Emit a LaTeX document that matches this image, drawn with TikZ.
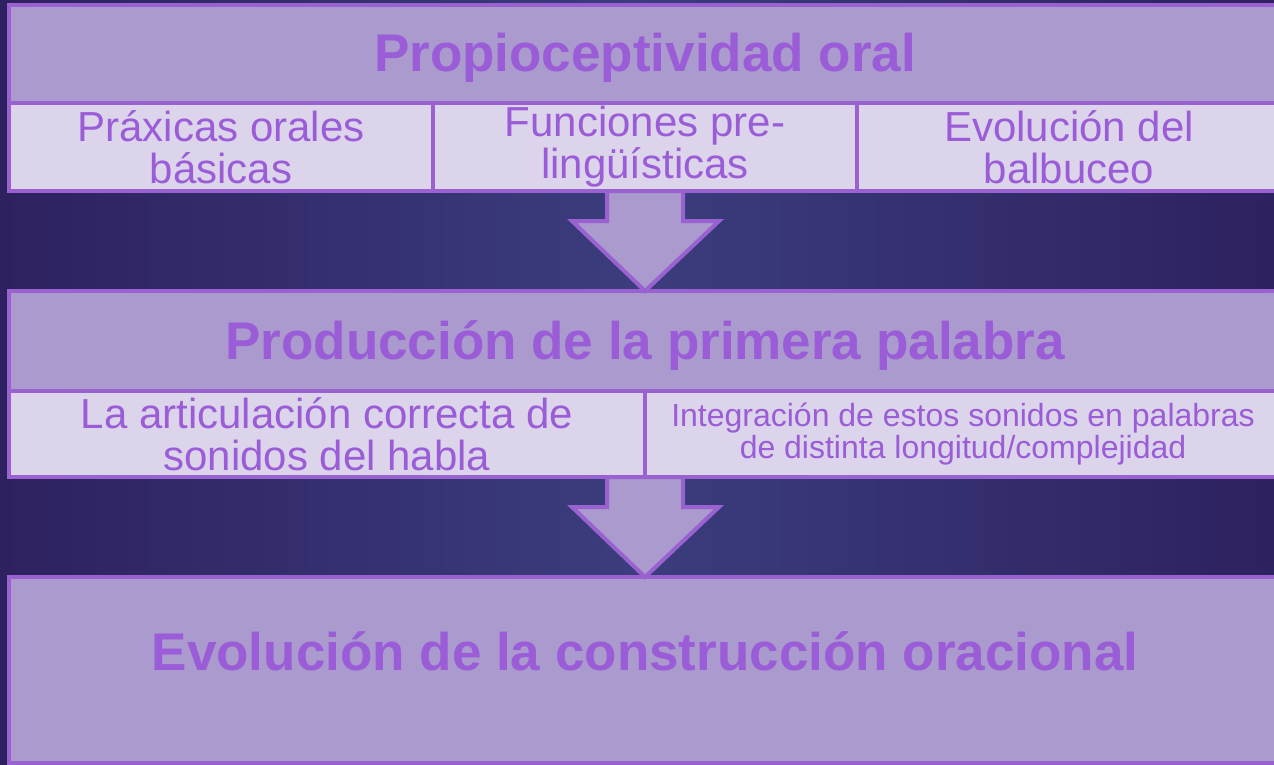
\documentclass[tikz,border=0pt]{standalone}
\usepackage{fontspec}
\setmainfont{Liberation Sans}

\definecolor{bgedge}{HTML}{2E2160}
\definecolor{bgmid}{HTML}{3B3D7D}
\definecolor{headfill}{HTML}{AA9ACE}
\definecolor{subfill}{HTML}{DCD4EA}
\definecolor{lineclr}{HTML}{9A62D0}
\definecolor{textclr}{HTML}{9B5CD8}

\begin{document}
\begin{tikzpicture}[x=1pt,y=-1pt,
  box/.style={draw=lineclr, line width=4pt, inner sep=0pt, outer sep=0pt, text=textclr, align=center, anchor=north west},
  head/.style={box, fill=headfill, font=\fontsize{53}{60}\selectfont\bfseries, text height=40pt, text depth=4pt},
  sub/.style={box, fill=subfill, font=\fontsize{42}{42}\selectfont},
  blockarrow/.style={draw=lineclr, line width=4pt, fill=headfill, line join=miter}]

\useasboundingbox (0,0) rectangle (1274,765);
\clip (0,0) rectangle (1274,765);
\shade [left color=bgedge, right color=bgedge, middle color=bgmid] (0,0) rectangle (1274,765);

% first level
\node [head, minimum width=1272pt, minimum height=98pt] (propio) at (9,5) {Propioceptividad oral};
\node [sub, minimum width=424pt, minimum height=88pt] (praxicas) at (9,103) {Práxicas orales\\básicas};
\node [sub, minimum width=424pt, minimum height=88pt] (funciones) at (433,103) {Funciones pre-\\lingüísticas};
\node [sub, minimum width=424pt, minimum height=88pt] (balbuceo) at (857,103) {Evolución del\\balbuceo};

% second level
\node [head, minimum width=1272pt, minimum height=100pt] (produccion) at (9,291) {Producción de la primera palabra};
\node [sub, minimum width=636pt, minimum height=86pt] (articulacion) at (9,391) {La articulación correcta de\\sonidos del habla};
\node [sub, minimum width=636pt, minimum height=86pt, font=\fontsize{32}{32}\selectfont] (integracion) at (645,391) {Integración de estos sonidos en palabras\\de distinta longitud/complejidad};

% third level
\node [head, minimum width=1272pt, minimum height=186pt, text depth=40pt] (oracional) at (9,577) {Evolución de la construcción oracional};

% arrows
\draw [blockarrow] ([xshift=-38pt]funciones.south) -- ++(0,30) -- ++(-35,0) -- (produccion.north) -- ++(74,-70) -- ++(-36,0) -- ([xshift=38pt]funciones.south) -- cycle;
\draw [blockarrow] ([xshift=-38pt]articulacion.south east) -- ++(0,30) -- ++(-35,0) -- (oracional.north) -- ++(74,-70) -- ++(-36,0) -- ([xshift=38pt]articulacion.south east) -- cycle;
\end{tikzpicture}
\end{document}
